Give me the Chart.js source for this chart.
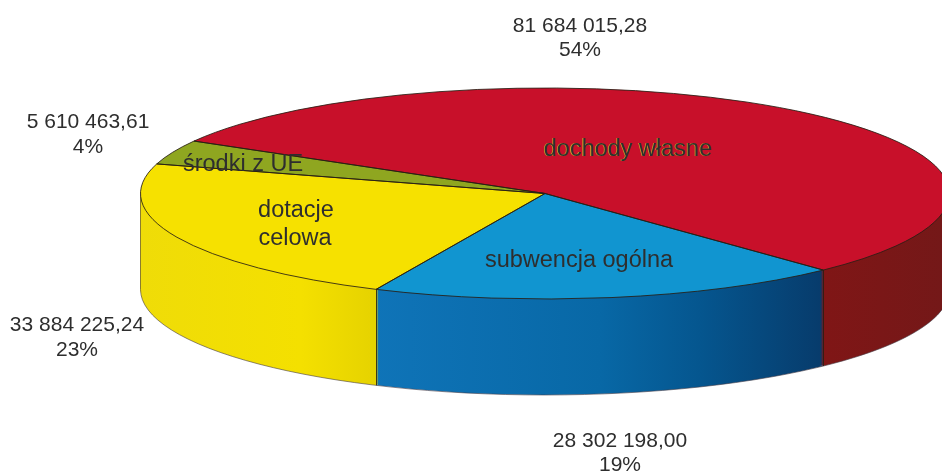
<!DOCTYPE html>
<html>
<head>
<meta charset="utf-8">
<style>
html,body{margin:0;padding:0;background:#fff;overflow:hidden}
#wrap{width:942px;height:472px;position:relative}
canvas{display:block}
</style>
<script src="https://cdn.jsdelivr.net/npm/chart.js@4/dist/chart.umd.min.js"></script>
</head>
<body>
<div id="wrap"><canvas id="c" width="942" height="472"></canvas></div>
<script>
const categories = ["dochody własne", "subwencja ogólna", "dotacje celowa", "środki z UE"];
const values = [81684015.28, 28302198.00, 33884225.24, 5610463.61];
const percents = ["54%", "19%", "23%", "4%"];

const topColors = ["#c8102a", "#1195d0", "#f6e100", "#8fa620"];
const PIE = {cx: 545, cy: 193.5, rx: 404.5, ry: 105.5, depth: 96};
const rotationDeg = -60.2;
const CAPTION_FONT = '21px "Liberation Sans", Arial, sans-serif';
const NAME_FONT = '23.5px "Liberation Sans", Arial, sans-serif';
const TEXT = "#2e2e2e";
const EDGE = "rgba(40,30,20,0.85)";

// [x, first-line y, second-line y] for the value / percent captions
const captionPos = [[580, 26, 50], [620, 441, 465], [77, 325, 350], [88, 122, 147]];
// slice-name text placement: lines with x, y
const namePos = [
  [["dochody własne", 628, 150]],
  [["subwencja ogólna", 579, 261]],
  [["dotacje", 296, 211], ["celowa", 295, 239]],
  [["środki z UE", 243, 165]]
];

function fmt(v){
  const [a, b] = v.toFixed(2).split(".");
  return a.replace(/\B(?=(\d{3})+(?!\d))/g, " ") + "," + b;
}

function applyPie(ctx, arc, dy){
  const r = arc.outerRadius;
  ctx.translate(PIE.cx, PIE.cy + dy);
  ctx.scale(PIE.rx / r, PIE.ry / r);
  ctx.translate(-arc.x, -arc.y);
}

function sideFill(ctx, arc, index){
  const r = arc.outerRadius, k = PIE.rx / r;
  const toX = px => arc.x + (px - PIE.cx) / k;
  const g = ctx.createLinearGradient(toX(141), 0, toX(942), 0);
  const mk = {
    0: [[0, "#7c1414"], [0.85, "#801616"], [1, "#741818"]],
    1: [[0, "#f0dc00"], [0.29, "#0f74b8"], [0.573, "#0868a6"], [0.698, "#05568f"], [0.853, "#073b6b"], [1, "#073b6b"]],
    2: [[0, "#efdc08"], [0.2, "#f4e000"], [0.29, "#e6d300"], [1, "#e6d300"]],
    3: [[0, "#7f9418"], [1, "#7f9418"]]
  }[index];
  mk.forEach(s => g.addColorStop(s[0], s[1]));
  return g;
}

const pie3d = {
  id: "pie3d",
  beforeDatasetsDraw(chart){
    const ctx = chart.ctx;
    const arcs = chart.getDatasetMeta(0).data;
    // side wall: the library's own arcs stacked downwards in the wall colours
    for (let i = PIE.depth; i >= 1; i--) {
      arcs.forEach((arc, idx) => {
        const saved = arc.options;
        ctx.save();
        applyPie(ctx, arc, i);
        arc.options = Object.assign({}, saved, {backgroundColor: sideFill(ctx, arc, idx), borderWidth: 0});
        arc.draw(ctx);
        arc.options = saved;
        ctx.restore();
      });
    }
    ctx.save();
    applyPie(ctx, arcs[0], 0);
  },
  afterDatasetsDraw(chart){
    const ctx = chart.ctx;
    ctx.restore();
    const arcs = chart.getDatasetMeta(0).data;
    ctx.save();
    ctx.strokeStyle = EDGE;
    ctx.lineWidth = 1;
    // top-face outlines
    arcs.forEach(arc => {
      ctx.save();
      applyPie(ctx, arc, 0);
      ctx.beginPath();
      ctx.moveTo(arc.x, arc.y);
      ctx.arc(arc.x, arc.y, arc.outerRadius, arc.startAngle, arc.endAngle);
      ctx.closePath();
      ctx.restore();
      ctx.stroke();
    });
    // bottom rim and verticals
    const a0 = arcs[0];
    ctx.save();
    applyPie(ctx, a0, PIE.depth);
    ctx.beginPath();
    ctx.arc(a0.x, a0.y, a0.outerRadius, 0, Math.PI);
    ctx.restore();
    ctx.strokeStyle = "rgba(70,60,70,0.6)";
    ctx.stroke();
    ctx.beginPath();
    ctx.moveTo(PIE.cx - PIE.rx, PIE.cy);
    ctx.lineTo(PIE.cx - PIE.rx, PIE.cy + PIE.depth);
    ctx.stroke();
    ctx.strokeStyle = EDGE;
    arcs.forEach(arc => {
      const s = Math.sin(arc.endAngle), c = Math.cos(arc.endAngle);
      if (s > 0) {
        const x = Math.round(PIE.cx + c * PIE.rx) + 0.5, y = PIE.cy + s * PIE.ry;
        ctx.beginPath();
        ctx.moveTo(x, y);
        ctx.lineTo(x, y + PIE.depth);
        ctx.stroke();
      }
    });
    ctx.restore();
  },
  afterDraw(chart){
    const ctx = chart.ctx;
    ctx.save();
    ctx.textAlign = "center";
    ctx.textBaseline = "middle";
    ctx.fillStyle = TEXT;
    ctx.font = CAPTION_FONT;
    values.forEach((v, i) => {
      const p = captionPos[i];
      ctx.fillText(fmt(v), p[0], p[1]);
      ctx.fillText(percents[i], p[0], p[2]);
    });
    ctx.font = NAME_FONT;
    namePos.forEach((lines, i) => {
      lines.forEach(l => {
        if (i === 0) {
          ctx.fillStyle = "#c9a62a";
          ctx.fillText(l[0], l[1] - 0.8, l[2] - 0.6);
        }
        ctx.fillStyle = TEXT;
        ctx.fillText(l[0], l[1], l[2]);
      });
    });
    ctx.restore();
  }
};

new Chart(document.getElementById("c"), {
  type: "pie",
  data: {
    labels: categories,
    datasets: [{
      data: values,
      backgroundColor: topColors,
      borderWidth: 0,
      clip: false
    }]
  },
  options: {
    responsive: false,
    animation: false,
    rotation: rotationDeg,
    layout: {padding: 0},
    events: [],
    plugins: {legend: {display: false}, tooltip: {enabled: false}, title: {display: false}}
  },
  plugins: [pie3d]
});
</script>
</body>
</html>
